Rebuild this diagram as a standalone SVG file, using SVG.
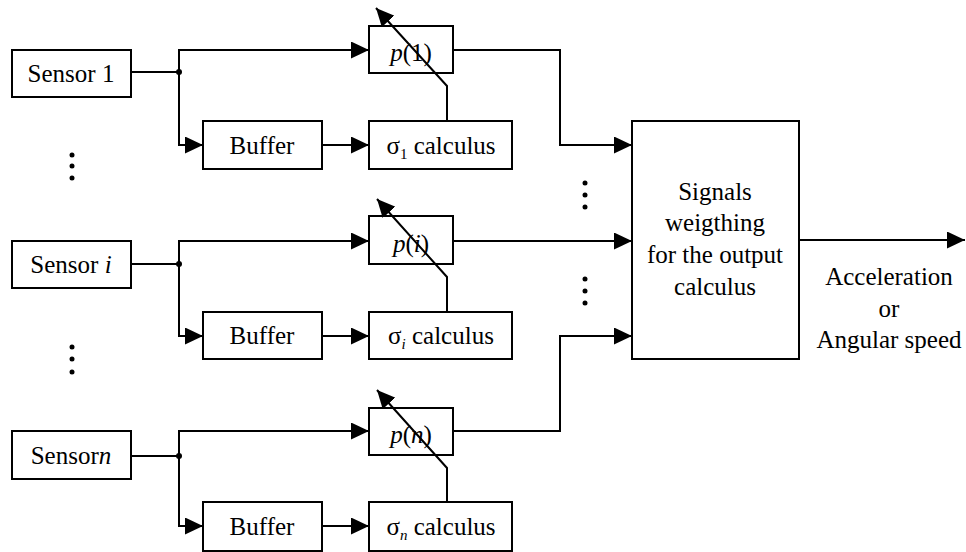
<svg xmlns="http://www.w3.org/2000/svg" width="966" height="552" viewBox="0 0 966 552" font-family="'Liberation Serif', 'DejaVu Serif', 'Times New Roman', serif">
<style>
.box{fill:#fff;stroke:#000;stroke-width:2}
.ln{fill:none;stroke:#000;stroke-width:2}
text{font-family:'Liberation Serif','DejaVu Serif','Times New Roman',serif;font-size:25px;fill:#000}
.c{text-anchor:middle}
.it{font-style:italic}
.dot{fill:#000}
</style>
<defs>
<marker id="ah" viewBox="0 0 18 17" refX="18" refY="8.5" markerWidth="18" markerHeight="17" markerUnits="userSpaceOnUse" orient="auto">
<path d="M0,0 L18,8.5 L0,17 z" fill="#000"/>
</marker>
</defs>

<g id="sensor1"><rect class="box" x="12" y="50" width="119" height="47"/><text class="c" x="71" y="82">Sensor 1</text></g>
<g id="sensori"><rect class="box" x="12" y="241" width="119" height="47"/><text class="c" x="71" y="273">Sensor<tspan class="it"> i</tspan></text></g>
<g id="sensorn"><rect class="box" x="12" y="431" width="119" height="48"/><text class="c" x="71" y="464">Sensor<tspan class="it">n</tspan></text></g>

<g id="buffer1"><rect class="box" x="203" y="121" width="119" height="48"/><text class="c" x="262" y="154">Buffer</text></g>
<g id="bufferi"><rect class="box" x="203" y="312" width="119" height="47"/><text class="c" x="262" y="344">Buffer</text></g>
<g id="buffern"><rect class="box" x="203" y="502" width="119" height="49"/><text class="c" x="262" y="535">Buffer</text></g>

<g id="p1"><rect class="box" x="369" y="26" width="84" height="47"/><text class="c" x="411" y="61"><tspan class="it">p</tspan>(1)</text></g>
<g id="pi"><rect class="box" x="369" y="216" width="84" height="48"/><text class="c" x="411" y="252"><tspan class="it">p</tspan>(<tspan class="it">i</tspan>)</text></g>
<g id="pn"><rect class="box" x="369" y="408" width="84" height="47"/><text class="c" x="411" y="443"><tspan class="it">p</tspan>(<tspan class="it">n</tspan>)</text></g>

<g id="sigma1"><rect class="box" x="369" y="121" width="143" height="48"/><text class="c" x="441" y="154">σ<tspan font-size="15" dy="5">1</tspan><tspan dy="-5"> calculus</tspan></text></g>
<g id="sigmai"><rect class="box" x="369" y="312" width="143" height="47"/><text class="c" x="441" y="344">σ<tspan class="it" font-size="15" dy="5">i</tspan><tspan dy="-5"> calculus</tspan></text></g>
<g id="sigman"><rect class="box" x="369" y="502" width="143" height="49"/><text class="c" x="441" y="535">σ<tspan class="it" font-size="15" dy="5">n</tspan><tspan dy="-5"> calculus</tspan></text></g>

<g id="weighting"><rect class="box" x="632" y="121" width="167" height="238"/>
<text class="c" x="715" y="200">Signals</text>
<text class="c" x="715" y="231">weigthing</text>
<text class="c" x="715" y="263">for the output</text>
<text class="c" x="715" y="295">calculus</text></g>

<g id="output-label">
<text class="c" x="889" y="285">Acceleration</text>
<text class="c" x="889" y="317" font-size="28">or</text>
<text class="c" x="889" y="348">Angular speed</text></g>

<g id="dots">
<circle class="dot" cx="72" cy="155" r="2.5"/><circle class="dot" cx="72" cy="166" r="2.5"/><circle class="dot" cx="72" cy="178" r="2.5"/>
<circle class="dot" cx="72" cy="347" r="2.5"/><circle class="dot" cx="72" cy="359" r="2.5"/><circle class="dot" cx="72" cy="372" r="2.5"/>
<circle class="dot" cx="585" cy="183" r="2.5"/><circle class="dot" cx="585" cy="195" r="2.5"/><circle class="dot" cx="585" cy="207" r="2.5"/>
<circle class="dot" cx="585" cy="279" r="2.5"/><circle class="dot" cx="585" cy="291" r="2.5"/><circle class="dot" cx="585" cy="303" r="2.5"/>
</g>

<g id="connectors">
<path class="ln" d="M131,72 H179"/>
<path class="ln" d="M179,72 V50 H369" marker-end="url(#ah)"/>
<path class="ln" d="M179,72 V145 H203" marker-end="url(#ah)"/>
<path class="ln" d="M322,145 H369" marker-end="url(#ah)"/>
<path class="ln" d="M447,121 V86 L376,8" marker-end="url(#ah)"/>
<path class="ln" d="M453,50 H560 V145 H632" marker-end="url(#ah)"/>
<path class="ln" d="M131,264 H179"/>
<path class="ln" d="M179,264 V241 H369" marker-end="url(#ah)"/>
<path class="ln" d="M179,264 V336 H203" marker-end="url(#ah)"/>
<path class="ln" d="M322,336 H369" marker-end="url(#ah)"/>
<path class="ln" d="M447,312 V277 L377,199" marker-end="url(#ah)"/>
<path class="ln" d="M453,241 H632" marker-end="url(#ah)"/>
<path class="ln" d="M131,456 H179"/>
<path class="ln" d="M179,456 V431 H369" marker-end="url(#ah)"/>
<path class="ln" d="M179,456 V526 H203" marker-end="url(#ah)"/>
<path class="ln" d="M322,526 H369" marker-end="url(#ah)"/>
<path class="ln" d="M447,502 V468 L377,390" marker-end="url(#ah)"/>
<path class="ln" d="M453,431 H560 V336 H632" marker-end="url(#ah)"/>
<path class="ln" d="M799,240 H965" marker-end="url(#ah)"/>
<circle class="dot" cx="179" cy="72" r="3"/>
<circle class="dot" cx="179" cy="264" r="3"/>
<circle class="dot" cx="179" cy="456" r="3"/>
</g>
</svg>
